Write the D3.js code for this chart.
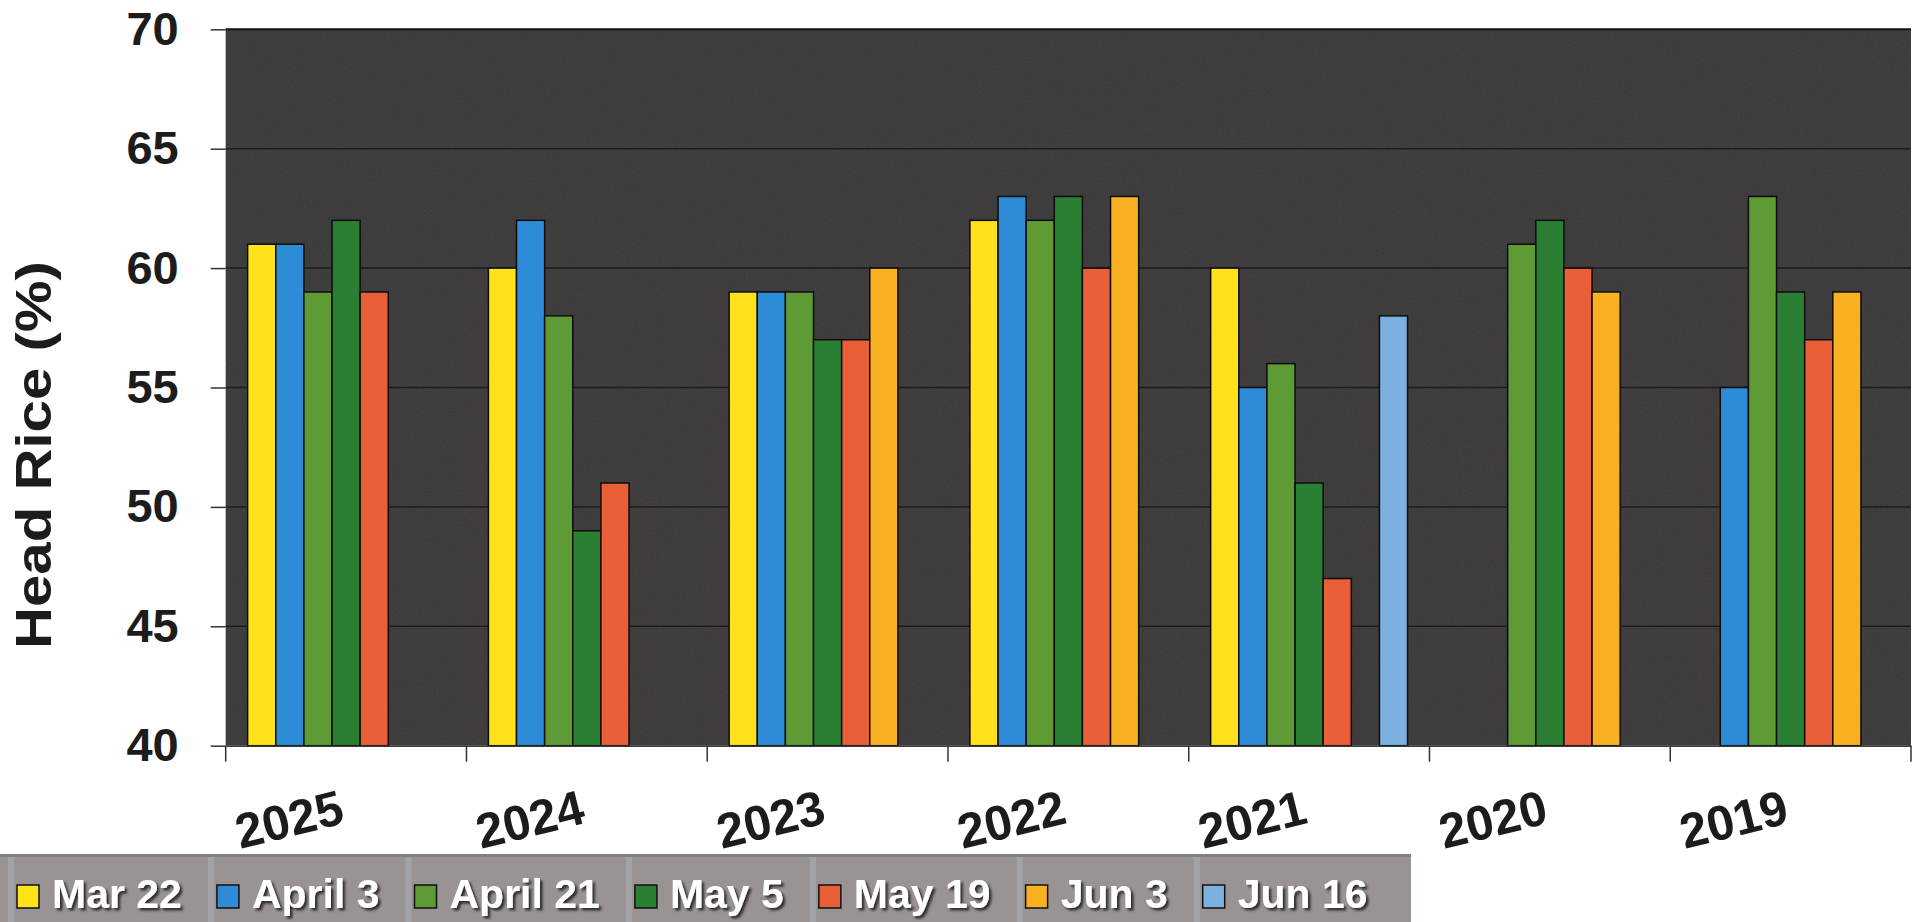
<!DOCTYPE html>
<html>
<head>
<meta charset="utf-8">
<script src="https://cdn.jsdelivr.net/npm/d3@7"></script>
<style>
  html, body { margin: 0; padding: 0; background: #ffffff; }
  svg { display: block; font-family: "Liberation Sans", Arial, Helvetica, sans-serif; }
</style>
</head>
<body>
<svg id="chart" width="1922" height="922"></svg>
<script>
// Harvest years (categories along the x axis)
const years = ["2025", "2024", "2023", "2022", "2021", "2020", "2019"];

// Sampling dates (series)
const dates = ["Mar 22", "April 3", "April 21", "May 5", "May 19", "Jun 3", "Jun 16"];

// Head rice (%) per sampling date, one value per year (null = not sampled)
const mar22   = [61, 60, 59, 62, 60, null, null];
const april3  = [61, 62, 59, 63, 55, null, 55];
const april21 = [59, 58, 59, 62, 56, 61, 63];
const may5    = [62, 49, 57, 63, 51, 62, 59];
const may19   = [59, 51, 57, 60, 47, 60, 57];
const jun3    = [null, null, 60, 63, null, 59, 59];
const jun16   = [null, null, null, null, 58, null, null];

// Y axis ticks
const yTicks = [40, 45, 50, 55, 60, 65, 70];

const seriesValues = [mar22, april3, april21, may5, may19, jun3, jun16];
const seriesColors = ["#FFE21A", "#2E8BD6", "#5F9B35", "#2A7F33", "#EA5F38", "#F9B121", "#7BB0DF"];

const svg = d3.select("#chart");
const defs = svg.append("defs");

// subtle grain for the plot background
const grain = defs.append("filter").attr("id", "grain")
  .attr("x", 0).attr("y", 0).attr("width", 1).attr("height", 1);
grain.append("feTurbulence").attr("type", "fractalNoise")
  .attr("baseFrequency", "0.9 0.6").attr("numOctaves", 2).attr("seed", 7);
grain.append("feColorMatrix").attr("type", "matrix")
  .attr("values", "0.33 0.33 0.33 0 0  0.33 0.33 0.33 0 0  0.33 0.33 0.33 0 0  0 0 0 0 1");

// legend text shadow
const shadow = defs.append("filter").attr("id", "txtShadow")
  .attr("x", "-10%").attr("y", "-20%").attr("width", "130%").attr("height", "150%");
shadow.append("feDropShadow").attr("dx", 2.5).attr("dy", 2.5)
  .attr("stdDeviation", 0.8).attr("flood-color", "#2a2626").attr("flood-opacity", 0.95);

const plot = { left: 225.7, right: 1911, top: 29.3, bottom: 745.7 };

const x = d3.scaleBand().domain(years).range([plot.left, plot.right]).paddingInner(0).paddingOuter(0);
const xs = d3.scaleBand().domain(dates).range([0, x.bandwidth()]).paddingInner(0).paddingOuter(0.78);
const y = d3.scaleLinear().domain([40, 70]).range([plot.bottom, plot.top]);

// plot background
svg.append("rect")
  .attr("x", plot.left).attr("y", plot.top)
  .attr("width", plot.right - plot.left).attr("height", plot.bottom - plot.top)
  .attr("fill", "#2c2a2a");
svg.append("rect")
  .attr("x", plot.left).attr("y", plot.top)
  .attr("width", plot.right - plot.left).attr("height", plot.bottom - plot.top)
  .attr("filter", "url(#grain)").attr("opacity", 0.13);

// horizontal gridlines
svg.append("g").selectAll("line")
  .data(yTicks.filter(t => t > 40))
  .join("line")
  .attr("x1", plot.left).attr("x2", plot.right)
  .attr("y1", d => y(d)).attr("y2", d => y(d))
  .attr("stroke", d => d === 70 ? "#111111" : "#1e1c1c")
  .attr("stroke-width", d => d === 70 ? 2 : 1.5);

// bars
const groups = svg.append("g").selectAll("g")
  .data(years)
  .join("g")
  .attr("transform", d => `translate(${x(d)},0)`);

groups.selectAll("rect")
  .data((yr, i) => dates.map((dt, s) => ({ date: dt, s, v: seriesValues[s][i] })).filter(d => d.v !== null))
  .join("rect")
  .attr("x", d => xs(d.date))
  .attr("width", xs.bandwidth())
  .attr("y", d => y(d.v))
  .attr("height", d => y(40) - y(d.v))
  .attr("fill", d => seriesColors[d.s])
  .attr("stroke", "#0d0d0d")
  .attr("stroke-width", 1.5);

// y axis
const yAxis = svg.append("g")
  .attr("transform", `translate(${plot.left},0)`)
  .call(d3.axisLeft(y).tickValues(yTicks).tickSize(15).tickPadding(32).tickFormat(d3.format("d")));
yAxis.select(".domain").remove();
yAxis.selectAll(".tick line").attr("stroke", "#333").attr("stroke-width", 1.5);
yAxis.selectAll(".tick text")
  .attr("font-size", 47).attr("font-weight", "bold").attr("fill", "#1c1c1c")
  .attr("font-family", "'Liberation Sans', Arial, sans-serif");

// x axis (labels at band centres, tick marks on band boundaries)
const xAxis = svg.append("g")
  .attr("transform", `translate(0,${plot.bottom})`)
  .call(d3.axisBottom(x).tickSize(0).tickSizeOuter(0));
xAxis.select(".domain").attr("stroke", "#3a3a3a").attr("stroke-width", 1.5);
xAxis.selectAll(".tick text")
  .attr("y", 0).attr("dy", 0)
  .attr("text-anchor", "end")
  .attr("transform", "translate(0,77) rotate(-14)")
  .attr("font-size", 49).attr("font-weight", "bold").attr("fill", "#1c1c1c")
  .attr("font-family", "'Liberation Sans', Arial, sans-serif");

const boundaries = years.map(d => x(d)).concat([x.range()[1]]);
xAxis.append("g").selectAll("line")
  .data(boundaries)
  .join("line")
  .attr("x1", d => d).attr("x2", d => d)
  .attr("y1", 0).attr("y2", 16)
  .attr("stroke", "#333").attr("stroke-width", 1.5);

// y axis title
svg.append("text")
  .attr("transform", "translate(51,455) rotate(-90)")
  .attr("text-anchor", "middle")
  .attr("font-size", 50).attr("font-weight", "bold").attr("fill", "#1c1c1c")
  .attr("textLength", 388).attr("lengthAdjust", "spacingAndGlyphs")
  .text("Head Rice (%)");

// legend band
const legend = svg.append("g");
legend.append("rect")
  .attr("x", 0).attr("y", 854).attr("width", 1411).attr("height", 68)
  .attr("fill", "#999393");
legend.append("rect")
  .attr("x", 0).attr("y", 854).attr("width", 1411).attr("height", 3)
  .attr("fill", "#858080");

const item = legend.append("g").selectAll("g")
  .data(dates)
  .join("g");

item.append("rect").attr("class", "sep")
  .attr("y", 857).attr("height", 65).attr("width", 6)
  .attr("fill", "#a3a2a6");

item.append("rect").attr("class", "sw")
  .attr("y", 885).attr("width", 22).attr("height", 23)
  .attr("fill", (d, i) => seriesColors[i])
  .attr("stroke", "#111").attr("stroke-width", 1.5);

item.append("text")
  .attr("y", 908)
  .attr("font-size", 41).attr("font-weight", "bold").attr("fill", "#ffffff")
  .attr("filter", "url(#txtShadow)")
  .text(d => d);

// flow layout of legend entries
let cursor = 17;
item.each(function () {
  const g = d3.select(this);
  g.select(".sw").attr("x", cursor);
  g.select(".sep").attr("x", cursor - 9);
  const t = g.select("text").attr("x", cursor + 35);
  const w = t.node().getComputedTextLength();
  cursor = cursor + 35 + w + 35;
});
</script>
</body>
</html>
